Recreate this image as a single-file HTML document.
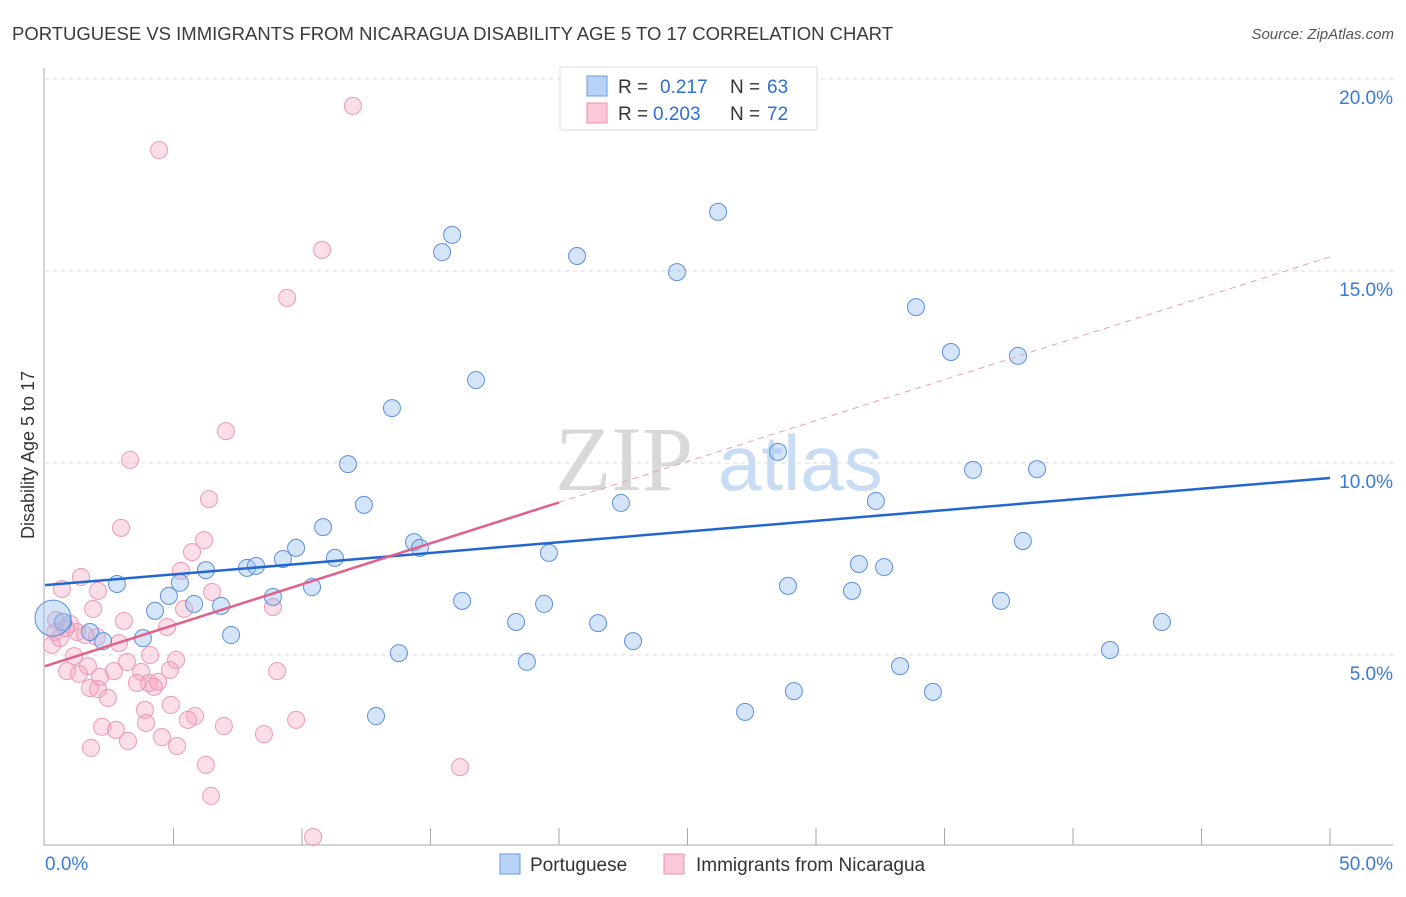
<!DOCTYPE html>
<html><head><meta charset="utf-8"><style>
body{margin:0;background:#fff;font-family:"Liberation Sans",sans-serif}
svg text{font-family:"Liberation Sans",sans-serif}
</style></head><body>
<svg id="c" width="1406" height="892">
<text x="12" y="40" font-size="18.5" fill="#3a3a3a">PORTUGUESE VS IMMIGRANTS FROM NICARAGUA DISABILITY AGE 5 TO 17 CORRELATION CHART</text>
<text x="1394" y="39" font-size="15" fill="#555" font-style="italic" text-anchor="end">Source: ZipAtlas.com</text>
<text transform="translate(34,455) rotate(-90)" font-size="18" fill="#333" text-anchor="middle">Disability Age 5 to 17</text>
<g id="grid"></g>
<text x="555" y="490" font-size="92" fill="#d8d8d8" style="font-family:'Liberation Serif',serif">ZIP</text>
<text x="718" y="490" font-size="78" fill="#c8dcf3">atlas</text>
<g id="marks"></g>
<g>
<rect x="560" y="67" width="257" height="63" fill="#fff" stroke="#ddd"/>
<rect x="587" y="76" width="20" height="20" fill="#b8d3f5" stroke="#6a9be0"/>
<rect x="587" y="103" width="20" height="20" fill="#fbc8d8" stroke="#e890aa"/>
<text y="93" font-size="19" fill="#333"><tspan x="618">R =</tspan><tspan x="660" fill="#2d6fd6">0.217</tspan><tspan x="730">N =</tspan><tspan x="767" fill="#2d6fd6">63</tspan></text>
<text y="120" font-size="19" fill="#333"><tspan x="618">R =</tspan><tspan x="653" fill="#2d6fd6">0.203</tspan><tspan x="730">N =</tspan><tspan x="767" fill="#2d6fd6">72</tspan></text>
</g>
<g>
<rect x="500" y="854" width="20" height="20" fill="#b8d3f5" stroke="#6a9be0"/>
<text x="530" y="871" font-size="19" fill="#333">Portuguese</text>
<rect x="664" y="854" width="20" height="20" fill="#fbc8d8" stroke="#e890aa"/>
<text x="696" y="871" font-size="19" fill="#333">Immigrants from Nicaragua</text>
</g>
</svg>
<script>
const yTicks=[5,10,15,20];
const yTickLabels=["5.0%","10.0%","15.0%","20.0%"];
const xTickVals=[5,10,15,20,25,30,35,40,45,50];
const xEndLabels=["0.0%","50.0%"];
const blueX=[0.70,1.75,2.26,2.80,3.81,4.28,4.82,5.25,5.80,6.26,6.85,7.24,7.86,8.21,8.87,9.26,9.77,10.39,10.82,11.28,11.79,12.41,12.88,13.50,13.77,14.36,14.59,15.84,15.45,16.23,16.77,18.33,18.75,19.42,19.61,20.70,21.52,22.41,22.88,24.59,26.19,27.24,28.52,28.91,29.14,31.40,31.67,32.33,32.65,33.27,33.89,34.55,35.25,36.11,37.20,37.86,38.05,38.60,41.44,43.46,0.31];
const blueY=[5.86,5.60,5.36,6.85,5.44,6.15,6.54,6.88,6.33,7.21,6.28,5.52,7.27,7.32,6.51,7.50,7.79,6.77,8.33,7.53,9.97,8.91,3.41,11.43,5.05,7.94,7.79,15.94,15.49,6.41,12.16,5.86,4.82,6.33,7.66,15.39,5.83,8.96,5.36,14.97,16.54,3.52,10.29,6.80,4.06,6.67,7.37,9.01,7.29,4.71,14.06,4.04,12.89,9.82,6.41,12.79,7.97,9.84,5.13,5.86,5.96];
const pinkX=[11.98,4.44,10.78,9.42,7.04,3.31,6.38,2.96,6.19,5.72,1.40,0.66,2.06,5.29,6.50,1.87,8.87,5.41,3.07,4.75,0.97,1.25,0.39,0.58,2.02,2.88,4.09,5.10,3.19,1.13,1.67,2.68,0.86,1.32,3.74,4.86,9.03,2.14,4.05,3.58,4.40,1.75,2.06,2.45,4.24,4.90,3.89,5.84,5.56,2.22,2.76,3.93,6.96,9.77,8.52,4.55,5.14,3.23,1.79,6.26,16.15,6.46,10.43,0.27,0.43,1.56,0.82];
const pinkY=[19.30,18.15,15.55,14.30,10.83,10.08,9.06,8.31,7.99,7.68,7.03,6.72,6.67,7.19,6.64,6.20,6.25,6.20,5.89,5.73,5.81,5.60,5.60,5.44,5.47,5.31,5.00,4.87,4.82,4.97,4.71,4.58,4.58,4.51,4.56,4.61,4.58,4.43,4.27,4.27,4.30,4.14,4.11,3.88,4.17,3.70,3.57,3.41,3.31,3.13,3.05,3.23,3.15,3.31,2.94,2.86,2.63,2.76,2.58,2.14,2.08,1.33,0.26,5.26,5.91,5.52,5.70];
const blueLine=[6.82,9.61];
const pinkLine=[4.71,15.37];
const pinkSolidEnd=20;

const X0=45,X1=1330,YB=847,PXPER=38.4;
const sx=v=>X0+(v/50)*(X1-X0);
const sy=v=>YB-v*PXPER;
const NS="http://www.w3.org/2000/svg";
function mk(t,a,p){const e=document.createElementNS(NS,t);for(const k in a)e.setAttribute(k,a[k]);p.appendChild(e);return e;}
const grid=document.getElementById('grid'),marks=document.getElementById('marks');
yTicks.forEach((v,i)=>{
  const l=mk('line',{x1:45,x2:1393,y1:sy(v),y2:sy(v),stroke:'#d8d8d8','stroke-dasharray':'4,4'},grid);
  
  
  const t=mk('text',{x:1393,y:sy(v)+25,'font-size':19,fill:'#3a7ad5','text-anchor':'end'},grid);
  t.textContent=yTickLabels[i];
  
  
});
const ax=mk('line',{x1:44,x2:44,y1:68,y2:845,stroke:'#aaa'},grid);


const bx=mk('line',{x1:44,x2:1393,y1:845,y2:845,stroke:'#aaa'},grid);


xTickVals.forEach(v=>{
  const l=mk('line',{x1:sx(v),x2:sx(v),y1:828,y2:845,stroke:'#aaa'},grid);
  
  
});
[[45,'start',0],[1393,'end',1]].forEach(([x,a,i])=>{
  const t=mk('text',{x:x,y:870,'font-size':19,fill:'#3a7ad5','text-anchor':a},grid);
  t.textContent=xEndLabels[i];
  
  
});
pinkX.forEach((x,i)=>{
  const c=mk('circle',{cx:sx(x),cy:sy(pinkY[i]),r:8.5,fill:'rgba(246,160,188,0.35)',stroke:'#ec9ab4','stroke-width':1},marks);
  
  
});
blueX.forEach((x,i)=>{
  const big=i===blueX.length-1;
  const c=mk('circle',{cx:sx(x),cy:sy(blueY[i]),r:big?18:8.5,fill:'rgba(150,190,240,0.4)',stroke:'#5c90dc','stroke-width':1},marks);
  
  
});
const bl=mk('line',{x1:sx(0),y1:sy(blueLine[0]),x2:sx(50),y2:sy(blueLine[1]),stroke:'#2266d0','stroke-width':2.5},marks);


const pAt=v=>pinkLine[0]+(pinkLine[1]-pinkLine[0])*v/50;
const pl=mk('line',{x1:sx(0),y1:sy(pAt(0)),x2:sx(pinkSolidEnd),y2:sy(pAt(pinkSolidEnd)),stroke:'#e0608a','stroke-width':2.5},marks);


const pd=mk('line',{x1:sx(pinkSolidEnd),y1:sy(pAt(pinkSolidEnd)),x2:sx(50),y2:sy(pAt(50)),stroke:'#e8a0b8','stroke-width':1,'stroke-dasharray':'6,5'},marks);


</script>
</body></html>
